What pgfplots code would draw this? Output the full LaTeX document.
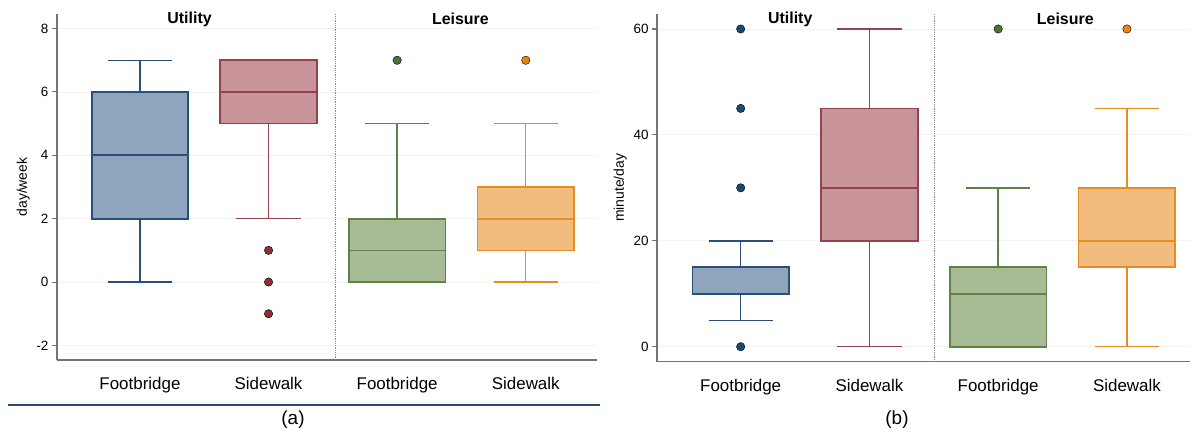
\documentclass[border=0pt]{standalone}
\usepackage{fontspec}
\setmainfont{Liberation Sans}
\usepackage{pgfplots}
\pgfplotsset{compat=1.18}
\usepgfplotslibrary{statistics}
\definecolor{bfill}{HTML}{8EA5BD}\definecolor{bedge}{HTML}{2A4E77}\definecolor{bdot}{HTML}{1B4977}
\definecolor{rfill}{HTML}{C8949A}\definecolor{redge}{HTML}{93434E}\definecolor{rdot}{HTML}{8C2F3B}
\definecolor{gfill}{HTML}{A7BC94}\definecolor{gedge}{HTML}{61814A}\definecolor{gdot}{HTML}{4B7530}
\definecolor{ofill}{HTML}{F1BD7E}\definecolor{oedge}{HTML}{E68C22}\definecolor{odot}{HTML}{E8830C}
\definecolor{navy}{HTML}{2F4A6E}
\pgfplotsset{
 mystyle/.style={
  scale only axis, anchor=south west,
  axis x line*=bottom, axis y line*=left,
  axis line style={black!55, line width=1.2bp, -},
  tick align=outside, major tick length=5bp,
  ytick style={black!55, line width=1.1bp},
  xtick={1,2,3,4}, xticklabels={Footbridge,Sidewalk,Footbridge,Sidewalk},
  x tick style={draw=none},
  x tick label style={font=\fontsize{17}{17}\selectfont, yshift=-9bp},
  y tick label style={font=\fontsize{13.5}{13.5}\selectfont},
  /pgf/number format/assume math mode=true,
  ymajorgrids, grid style={black!5, line width=0.8bp},
  boxplot/draw direction=y,
  boxplot/box extend=0.75, boxplot/whisker extend=0.5,
  boxplot/every box/.style={line width=1.7bp},
  boxplot/every median/.style={line width=1.7bp},
  boxplot/every whisker/.style={line width=1.4bp},
  clip=false,
  ylabel style={font=\fontsize{14}{14}\selectfont},
  dots/.style={only marks, mark=*, mark size=4.2bp, mark options={draw=none, fill=##1}},
 }
}
\begin{document}
\begin{tikzpicture}
\path[use as bounding box] (0,0) rectangle (1192bp,438bp);
% ---------- panel (a)
\begin{axis}[mystyle, at={(57bp,78bp)}, width=540bp, height=346bp,
  xmin=0.355, xmax=4.554, ymin=-2.46, ymax=8.46, ytick={-2,0,2,4,6,8}, ylabel={day/week}]
\draw[black!45, densely dotted, line width=0.8bp] (axis cs:2.516,-2.46) -- (axis cs:2.516,8.46);
\addplot[boxplot prepared={draw position=1, lower whisker=0, lower quartile=2, median=4, upper quartile=6, upper whisker=7},
  draw=bedge, fill=bfill] coordinates {};
\addplot[boxplot prepared={draw position=2, lower whisker=2, lower quartile=5, median=6, upper quartile=7, upper whisker=7},
  draw=redge, fill=rfill] coordinates {};
\addplot[boxplot prepared={draw position=3, lower whisker=0, lower quartile=0, median=1, upper quartile=2, upper whisker=5},
  draw=gedge, fill=gfill] coordinates {};
\addplot[boxplot prepared={draw position=4, lower whisker=0, lower quartile=1, median=2, upper quartile=3, upper whisker=5},
  draw=oedge, fill=ofill] coordinates {};
\addplot[dots=rdot] coordinates {(2,1) (2,0) (2,-1)};
\addplot[dots=gdot] coordinates {(3,7)};
\addplot[dots=odot] coordinates {(4,7)};
\node[font=\bfseries\fontsize{16}{16}\selectfont] at (rel axis cs:0.2455,0.9855) {Utility};
\node[font=\bfseries\fontsize{16}{16}\selectfont] at (rel axis cs:0.747,0.9855) {Leisure};
\end{axis}
% ---------- panel (b)
\begin{axis}[mystyle, at={(657bp,76.3bp)}, width=533bp, height=347.7bp,
  xmin=0.35, xmax=4.49, ymin=-2.83, ymax=62.83, ytick={0,20,40,60}, ylabel={minute/day}]
\draw[black!45, densely dotted, line width=0.8bp] (axis cs:2.503,-2.83) -- (axis cs:2.503,62.83);
\addplot[boxplot prepared={draw position=1, lower whisker=5, lower quartile=10, median=10, upper quartile=15, upper whisker=20},
  draw=bedge, fill=bfill] coordinates {};
\addplot[boxplot prepared={draw position=2, lower whisker=0, lower quartile=20, median=30, upper quartile=45, upper whisker=60},
  draw=redge, fill=rfill] coordinates {};
\addplot[boxplot prepared={draw position=3, lower whisker=0, lower quartile=0, median=10, upper quartile=15, upper whisker=30},
  draw=gedge, fill=gfill] coordinates {};
\addplot[boxplot prepared={draw position=4, lower whisker=0, lower quartile=15, median=20, upper quartile=30, upper whisker=45},
  draw=oedge, fill=ofill] coordinates {};
\addplot[dots=bdot] coordinates {(1,0) (1,30) (1,45) (1,60)};
\addplot[dots=gdot] coordinates {(3,60)};
\addplot[dots=odot] coordinates {(4,60)};
\node[font=\bfseries\fontsize{16}{16}\selectfont] at (rel axis cs:0.25,0.9855) {Utility};
\node[font=\bfseries\fontsize{16}{16}\selectfont] at (rel axis cs:0.766,0.9855) {Leisure};
\end{axis}
\draw[navy, line width=1.3bp] (8bp,33bp) -- (600bp,33bp);
\node[font=\fontsize{19}{19}\selectfont] at (293bp,18bp) {(a)};
\node[font=\fontsize{19}{19}\selectfont] at (897bp,18bp) {(b)};
\end{tikzpicture}
\end{document}
